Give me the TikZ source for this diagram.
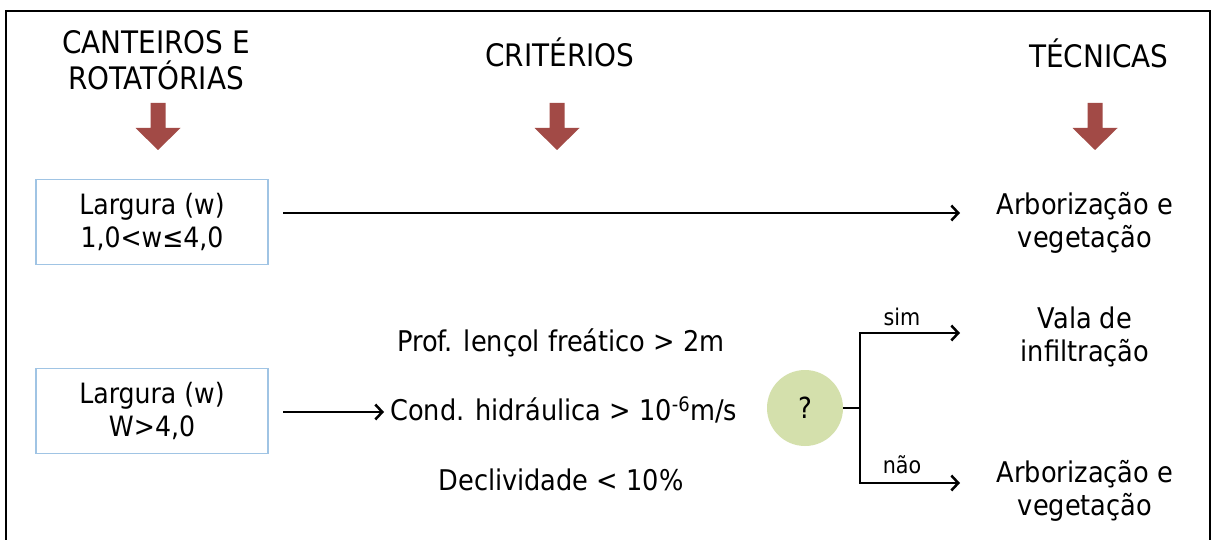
\documentclass[tikz,border=0pt]{standalone}
\usepackage{fontspec}
\setmainfont{DejaVu Sans Condensed}
\usetikzlibrary{arrows.meta}
\definecolor{redarrow}{RGB}{162,74,70}
\definecolor{boxblue}{RGB}{160,196,228}
\definecolor{qgreen}{RGB}{212,224,172}
\tikzset{
  header/.style={font=\fontsize{31}{36}\selectfont, align=center, inner sep=0pt},
  txt/.style={font=\fontsize{28.5}{33}\selectfont, align=center, inner sep=0pt},
  small/.style={font=\fontsize{23}{26}\selectfont, inner sep=0pt},
  wbox/.style={draw=boxblue, line width=1.2pt, minimum width=232pt, minimum height=85pt, align=center, font=\fontsize{28}{33}\selectfont, inner sep=0pt},
  conn/.style={line width=2.5pt, -{Straight Barb[length=7pt,width=15pt,line width=2.5pt]}},
  plain/.style={line width=2.5pt},
  redarr/.style={fill=redarrow}
}
\newcommand{\redarrowat}[1]{%
  \fill[redarr] (#1-7.5,103) -- (#1+7.5,103) -- (#1+7.5,128) -- (#1+22.5,128) -- (#1,150) -- (#1-22.5,128) -- (#1-7.5,128) -- cycle;}
\begin{document}
\begin{tikzpicture}[x=1pt,y=-1pt]
\useasboundingbox (0,0) rectangle (1220,540);
\fill[white] (0,0) rectangle (1220,540);
\begin{scope}
\clip (0,0) rectangle (1220,540);
\draw[line width=2.5pt] (6,560) -- (6,11) -- (1210,11) -- (1210,560);
\end{scope}
% headers
\node[header] (h1) at (156,60) {CANTEIROS E\\ROTATÓRIAS};
\node[header] (h2) at (560,52) {CRITÉRIOS};
\node[header] (h3) at (1099,53) {TÉCNICAS};
\redarrowat{158}
\redarrowat{557}
\redarrowat{1095}
% boxes
\node[wbox] (b1) at (152,222) {Largura (w)\\1,0<w≤4,0};
\node[wbox] (b2) at (152,411) {Largura (w)\\W>4,0};
% right column
\node[txt] (t1) at (1085,223) {Arborização e\\vegetação};
\node[txt] (t2) at (1085,337) {Vala de\\infiltração};
\node[txt] (t3) at (1085,491) {Arborização e\\vegetação};
% criteria
\node[txt] (c1) at (561,343) {Prof. lençol freático > 2m};
\node[txt, anchor=west] (c2) at (390,410) {Cond. hidráulica > 10\textsuperscript{-6}m/s};
\node[txt] (c3) at (561,480) {Declividade < 10\%};
% decision
\node[circle, fill=qgreen, minimum size=76pt, inner sep=0pt, font=\fontsize{29}{33}\selectfont] (q) at (805,408) {?};
\coordinate (j) at (860,408);
\coordinate (js) at (860,333);
\coordinate (jn) at (860,483);
\coordinate (es) at (960,333);
\coordinate (en) at (960,483);
\coordinate (e1) at (960,213);
\coordinate (s1) at (283,213);
\coordinate (s2) at (283,412);
\coordinate (e2) at (384,412);
\draw[conn] (s1) -- (e1);
\draw[conn] (s2) -- (e2);
\draw[plain] (q.east) -- (j);
\draw[plain] (js) -- (jn);
\draw[conn] ([xshift=-1.25pt]js) -- (es);
\draw[conn] ([xshift=-1.25pt]jn) -- (en);
\node[small] (sim) at (902,317) {sim};
\node[small] (nao) at (902,465) {não};
\end{tikzpicture}
\end{document}
